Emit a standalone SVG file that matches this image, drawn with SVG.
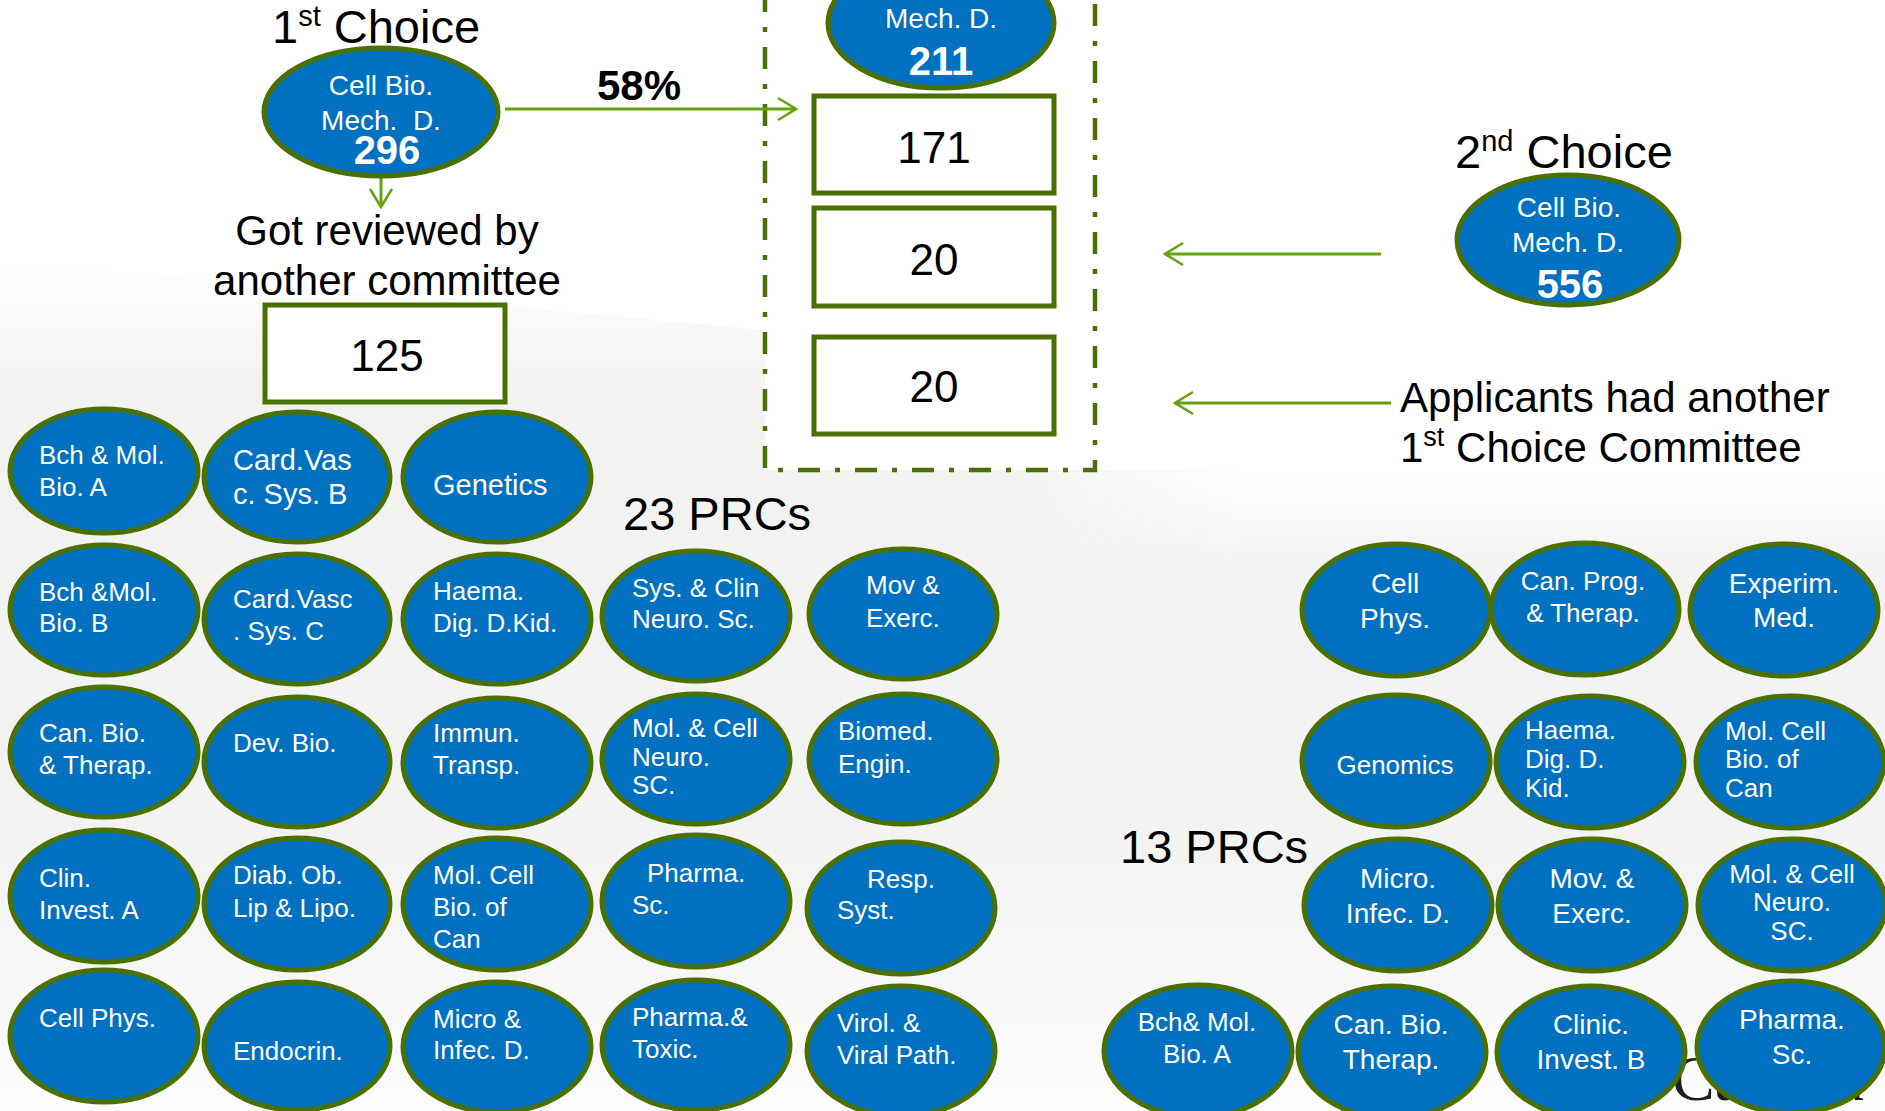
<svg xmlns="http://www.w3.org/2000/svg" width="1885" height="1111" viewBox="0 0 1885 1111">
<defs>
<style>
.n{fill:#0070C0;stroke:#4B7002;stroke-width:5}
.b{fill:#FFFFFF;stroke:#4B7002;stroke-width:5}
.w{fill:#FFFFFF;font-family:"Liberation Sans",Arial,sans-serif;font-size:26px}
.w28{font-size:28px}
.w29{font-size:29px}
.c{text-anchor:middle}
.num{fill:#FFFFFF;font-family:"Liberation Sans",Arial,sans-serif;font-size:40px;font-weight:bold;text-anchor:middle}
.k{fill:#000000;font-family:"Liberation Sans",Arial,sans-serif;font-size:42px}
.bx{fill:#000000;font-family:"Liberation Sans",Arial,sans-serif;font-size:44px;text-anchor:middle}
.big{fill:#000000;font-family:"Liberation Sans",Arial,sans-serif;font-size:47px}
.ar{fill:none;stroke:#66A20F;stroke-width:3}
</style>
<marker id="ah" viewBox="0 0 24 26" refX="21" refY="13" markerWidth="24" markerHeight="26" markerUnits="userSpaceOnUse" orient="auto">
<path d="M3,2 L21,13 L3,24" fill="none" stroke="#66A20F" stroke-width="2.6"/>
</marker>
<linearGradient id="bg" gradientUnits="userSpaceOnUse" x1="0" y1="260" x2="0" y2="1111">
<stop offset="0" stop-color="#FFFFFF"/>
<stop offset="0.15" stop-color="#F2F2F0"/>
<stop offset="0.7" stop-color="#F3F3F1"/>
<stop offset="1" stop-color="#FBFBFB"/>
</linearGradient>
<linearGradient id="fade" gradientUnits="userSpaceOnUse" x1="0" y1="466" x2="0" y2="570">
<stop offset="0" stop-color="#FFFFFF" stop-opacity="1"/>
<stop offset="1" stop-color="#FFFFFF" stop-opacity="0"/>
</linearGradient>
<linearGradient id="hgrad" gradientUnits="userSpaceOnUse" x1="1000" y1="0" x2="1250" y2="0">
<stop offset="0" stop-color="#000000"/>
<stop offset="1" stop-color="#FFFFFF"/>
</linearGradient>
<mask id="hm" maskUnits="userSpaceOnUse" x="0" y="0" width="1885" height="1111">
<rect x="765" y="460" width="1120" height="120" fill="url(#hgrad)"/>
</mask>
</defs>
<rect x="0" y="0" width="1885" height="1111" fill="#FFFFFF"/>
<polygon points="0,260 765,330 765,470 1885,470 1885,1111 0,1111" fill="url(#bg)"/>
<rect x="765" y="466" width="1120" height="104" fill="url(#fade)" mask="url(#hm)"/>
<rect x="765" y="0" width="330" height="470" fill="#FFFFFF"/>
<text x="1672" y="1100" style="font-family:'Liberation Serif',serif;font-size:64px;fill:#1E1E1E">Canadä</text>

<g id="container">
<path d="M765,-10 V470 H1095 V-10" fill="none" stroke="#4B7002" stroke-width="4.5" stroke-dasharray="22 15 5 15"/>
</g>

<g id="labels">
<text class="big" x="272" y="43">1<tspan font-size="29" dy="-17">st</tspan><tspan dy="17"> Choice</tspan></text>
<text class="big" x="1455" y="168">2<tspan font-size="29" dy="-17">nd</tspan><tspan dy="17"> Choice</tspan></text>
<text class="k" x="387" y="245" text-anchor="middle">Got reviewed by</text>
<text class="k" x="387" y="295" text-anchor="middle">another committee</text>
<text class="k" x="597" y="100" font-weight="bold">58%</text>
<text class="k" x="1400" y="412">Applicants had another</text>
<text class="k" x="1400" y="462">1<tspan font-size="27" dy="-16">st</tspan><tspan dy="16"> Choice Committee</tspan></text>
<text class="big" x="623" y="530">23 PRCs</text>
<text class="big" x="1120" y="863">13 PRCs</text>
</g>

<g id="connectors">
<line class="ar" x1="505" y1="109" x2="796" y2="109" marker-end="url(#ah)"/>
<line class="ar" x1="381" y1="178" x2="381" y2="207" marker-end="url(#ah)"/>
<line class="ar" x1="1381" y1="254" x2="1165" y2="254" marker-end="url(#ah)"/>
<line class="ar" x1="1391" y1="403" x2="1175" y2="403" marker-end="url(#ah)"/>
</g>

<g id="n-first">
<ellipse class="n" cx="381" cy="112" rx="117" ry="64"/>
<text class="w w28 c" x="381" y="95">Cell Bio.</text>
<text class="w w28 c" x="381" y="130" xml:space="preserve">Mech.  D.</text>
<text class="num" x="387" y="164">296</text>
</g>
<g id="n-top">
<ellipse class="n" cx="941" cy="23" rx="113" ry="65"/>
<text class="w w28 c" x="941" y="28">Mech. D.</text>
<text class="num" x="941" y="75">211</text>
</g>
<g id="n-second">
<ellipse class="n" cx="1568" cy="240" rx="111" ry="65"/>
<text class="w w28 c" x="1569" y="217">Cell Bio.</text>
<text class="w w28 c" x="1568" y="252">Mech. D.</text>
<text class="num" x="1570" y="298">556</text>
</g>

<g id="box-171"><rect class="b" x="814" y="96" width="240" height="97"/><text class="bx" x="934" y="163">171</text></g>
<g id="box-20a"><rect class="b" x="814" y="208" width="240" height="98"/><text class="bx" x="934" y="275">20</text></g>
<g id="box-20b"><rect class="b" x="814" y="337" width="240" height="97"/><text class="bx" x="934" y="402">20</text></g>
<g id="box-125"><rect class="b" x="265" y="305" width="240" height="97"/><text class="bx" x="387" y="371">125</text></g>

<g id="l-bchA"><ellipse class="n" cx="104" cy="471" rx="94" ry="62"/><text class="w" x="39" y="464">Bch &amp; Mol.</text><text class="w" x="39" y="496">Bio. A</text></g>
<g id="l-cardB"><ellipse class="n" cx="297" cy="477" rx="93" ry="65"/><text class="w w29" x="233" y="470">Card.Vas</text><text class="w w29" x="233" y="504">c. Sys. B</text></g>
<g id="l-genetics"><ellipse class="n" cx="497" cy="477" rx="94" ry="65"/><text class="w w29" x="433" y="495">Genetics</text></g>

<g id="l-bchB"><ellipse class="n" cx="104" cy="610" rx="94" ry="65"/><text class="w" x="39" y="601">Bch &amp;Mol.</text><text class="w" x="39" y="632">Bio. B</text></g>
<g id="l-cardC"><ellipse class="n" cx="297" cy="619" rx="93" ry="65"/><text class="w" x="233" y="608">Card.Vasc</text><text class="w" x="233" y="640">. Sys. C</text></g>
<g id="l-haema"><ellipse class="n" cx="497" cy="619" rx="94" ry="65"/><text class="w" x="433" y="600">Haema.</text><text class="w" x="433" y="632">Dig. D.Kid.</text></g>
<g id="l-sysclin"><ellipse class="n" cx="696" cy="616" rx="94" ry="65"/><text class="w" x="632" y="597">Sys. &amp; Clin</text><text class="w" x="632" y="628">Neuro. Sc.</text></g>
<g id="l-mov"><ellipse class="n" cx="903" cy="614" rx="94" ry="65"/><text class="w" x="866" y="594">Mov &amp;</text><text class="w" x="866" y="627">Exerc.</text></g>

<g id="l-canbio"><ellipse class="n" cx="104" cy="752" rx="94" ry="65"/><text class="w" x="39" y="742">Can. Bio.</text><text class="w" x="39" y="774">&amp; Therap.</text></g>
<g id="l-devbio"><ellipse class="n" cx="297" cy="762" rx="93" ry="65"/><text class="w" x="233" y="752">Dev. Bio.</text></g>
<g id="l-immun"><ellipse class="n" cx="497" cy="763" rx="94" ry="65"/><text class="w" x="433" y="742">Immun.</text><text class="w" x="433" y="774">Transp.</text></g>
<g id="l-molcellneuro"><ellipse class="n" cx="696" cy="759" rx="94" ry="65"/><text class="w" x="632" y="737">Mol. &amp; Cell</text><text class="w" x="632" y="766">Neuro.</text><text class="w" x="632" y="794">SC.</text></g>
<g id="l-biomed"><ellipse class="n" cx="903" cy="759" rx="94" ry="65"/><text class="w" x="838" y="740">Biomed.</text><text class="w" x="838" y="773">Engin.</text></g>

<g id="l-clinA"><ellipse class="n" cx="104" cy="896" rx="94" ry="66"/><text class="w" x="39" y="887">Clin.</text><text class="w" x="39" y="919">Invest. A</text></g>
<g id="l-diab"><ellipse class="n" cx="297" cy="904" rx="93" ry="66"/><text class="w" x="233" y="884">Diab. Ob.</text><text class="w" x="233" y="917">Lip &amp; Lipo.</text></g>
<g id="l-molcellcan"><ellipse class="n" cx="497" cy="904" rx="94" ry="66"/><text class="w" x="433" y="884">Mol. Cell</text><text class="w" x="433" y="916">Bio. of</text><text class="w" x="433" y="948">Can</text></g>
<g id="l-pharmasc"><ellipse class="n" cx="696" cy="901" rx="94" ry="66"/><text class="w" x="647" y="882">Pharma.</text><text class="w" x="632" y="914">Sc.</text></g>
<g id="l-resp"><ellipse class="n" cx="901" cy="908" rx="94" ry="66"/><text class="w" x="867" y="888">Resp.</text><text class="w" x="837" y="919">Syst.</text></g>

<g id="l-cellphys"><ellipse class="n" cx="104" cy="1036" rx="94" ry="66"/><text class="w" x="39" y="1027">Cell Phys.</text></g>
<g id="l-endocrin"><ellipse class="n" cx="297" cy="1046" rx="93" ry="64"/><text class="w" x="233" y="1060">Endocrin.</text></g>
<g id="l-micro"><ellipse class="n" cx="497" cy="1047" rx="94" ry="65"/><text class="w" x="433" y="1028">Micro &amp;</text><text class="w" x="433" y="1059">Infec. D.</text></g>
<g id="l-pharmatox"><ellipse class="n" cx="696" cy="1045" rx="94" ry="65"/><text class="w" x="632" y="1026">Pharma.&amp;</text><text class="w" x="632" y="1058">Toxic.</text></g>
<g id="l-virol"><ellipse class="n" cx="901" cy="1051" rx="94" ry="65"/><text class="w" x="837" y="1032">Virol. &amp;</text><text class="w" x="837" y="1064">Viral Path.</text></g>

<g id="r-cellphys"><ellipse class="n" cx="1396" cy="610" rx="94" ry="66"/><text class="w w28 c" x="1395" y="593">Cell</text><text class="w w28 c" x="1395" y="628">Phys.</text></g>
<g id="r-canprog"><ellipse class="n" cx="1585" cy="609" rx="94" ry="66"/><text class="w c" x="1583" y="590">Can. Prog.</text><text class="w c" x="1583" y="622">&amp; Therap.</text></g>
<g id="r-experim"><ellipse class="n" cx="1784" cy="610" rx="94" ry="66"/><text class="w w28 c" x="1784" y="593">Experim.</text><text class="w w28 c" x="1784" y="627">Med.</text></g>

<g id="r-genomics"><ellipse class="n" cx="1396" cy="761" rx="94" ry="66"/><text class="w c" x="1395" y="774">Genomics</text></g>
<g id="r-haema"><ellipse class="n" cx="1590" cy="762" rx="94" ry="66"/><text class="w" x="1525" y="739">Haema.</text><text class="w" x="1525" y="768">Dig. D.</text><text class="w" x="1525" y="797">Kid.</text></g>
<g id="r-molcellcan"><ellipse class="n" cx="1790" cy="762" rx="94" ry="66"/><text class="w" x="1725" y="740">Mol. Cell</text><text class="w" x="1725" y="768">Bio. of</text><text class="w" x="1725" y="797">Can</text></g>

<g id="r-micro"><ellipse class="n" cx="1398" cy="905" rx="94" ry="66"/><text class="w w28 c" x="1398" y="888">Micro.</text><text class="w w28 c" x="1398" y="923">Infec. D.</text></g>
<g id="r-mov"><ellipse class="n" cx="1592" cy="905" rx="94" ry="66"/><text class="w w28 c" x="1592" y="888">Mov. &amp;</text><text class="w w28 c" x="1592" y="923">Exerc.</text></g>
<g id="r-molcellneuro"><ellipse class="n" cx="1792" cy="905" rx="94" ry="66"/><text class="w c" x="1792" y="883">Mol. &amp; Cell</text><text class="w c" x="1792" y="911">Neuro.</text><text class="w c" x="1792" y="940">SC.</text></g>

<g id="r-bchA"><ellipse class="n" cx="1198" cy="1051" rx="94" ry="66"/><text class="w c" x="1197" y="1031">Bch&amp; Mol.</text><text class="w c" x="1197" y="1063">Bio. A</text></g>
<g id="r-canbio"><ellipse class="n" cx="1392" cy="1052" rx="94" ry="66"/><text class="w w28 c" x="1391" y="1034">Can. Bio.</text><text class="w w28 c" x="1391" y="1069">Therap.</text></g>
<g id="r-clinicB"><ellipse class="n" cx="1591" cy="1052" rx="94" ry="66"/><text class="w w28 c" x="1591" y="1034">Clinic.</text><text class="w w28 c" x="1591" y="1069">Invest. B</text></g>
<g id="r-pharmasc"><ellipse class="n" cx="1791" cy="1047" rx="94" ry="66"/><text class="w w28 c" x="1792" y="1029">Pharma.</text><text class="w w28 c" x="1792" y="1064">Sc.</text></g>
</svg>
